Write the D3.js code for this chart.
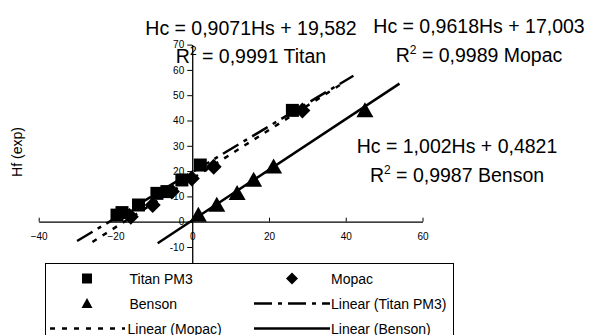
<!DOCTYPE html>
<html>
<head>
<meta charset="utf-8">
<script src="https://cdn.jsdelivr.net/npm/d3@7"></script>
<style>
  body { margin: 0; background: #fff; }
  svg { display: block; font-family: "Liberation Sans", Arial, sans-serif; }
  .tick text { font-size: 10px; fill: #000; }
  .ann { font-size: 19.5px; fill: #000; }
  .leg { font-size: 14px; fill: #000; }
</style>
</head>
<body>
<div id="chart"></div>
<script>
// ticks
const xTicks = [-40, -20, 0, 20, 40, 60];
const yTicks = [-20, -10, 0, 10, 20, 30, 40, 50, 60, 70];

// series (Hs on x, Hf exp on y)
const titanHs = [-19.6, -18.3, -14, -9.2, -6.6, -2.7, 2.1, 26.1];
const titanHc = [2.6, 3.6, 6.6, 11.2, 11.9, 16.5, 22.4, 44];
const mopacHs = [-16, -10.3, -5.3, -0.1, 5.6, 28.7];
const mopacHc = [2, 6.6, 11.9, 17.1, 21.7, 44];
const bensonHs = [1.6, 6.4, 11.7, 16, 21.2, 45];
const bensonHc = [2.6, 6.6, 11.2, 16.5, 21.7, 44];

// trendlines: Hc = slope*Hs + intercept, drawn between the x extents seen in the picture
const fitNames = ['Titan', 'Mopac', 'Benson'];
const fitSlope = [0.9071, 0.9618, 1.002];
const fitIntercept = [19.582, 17.003, 0.4821];
const fitFrom = [-30, -26, -9];
const fitTo = [42, 40, 54];
const eqText = ['Hc = 0,9071Hs + 19,582', 'Hc = 0,9618Hs + 17,003', 'Hc = 1,002Hs + 0,4821'];
const r2Text = [' = 0,9991 Titan', ' = 0,9989 Mopac', ' = 0,9987 Benson'];

const legendLabels = ['Titan PM3', 'Mopac', 'Benson', 'Linear (Titan PM3)', 'Linear (Mopac)', 'Linear (Benson)'];

const width = 593, height = 335;

const svg = d3.select('#chart').append('svg')
  .attr('width', width)
  .attr('height', height);

const x = d3.scaleLinear().domain([-40, 60]).range([38.7, 422.5]);
const y = d3.scaleLinear().domain([-20, 70]).range([272.3, 44.6]);

//// axes
const xAxis = svg.append('g')
  .attr('transform', `translate(0,${y(0)})`)
  .call(d3.axisBottom(x).tickValues(xTicks).tickSizeInner(-4).tickSizeOuter(0).tickPadding(11))
xAxis.select('.domain').attr('stroke', '#000').attr('stroke-width', 1.3)
xAxis.selectAll('.tick line').attr('stroke', '#000')

// the -20 label sits under the legend box in the reference, so it is left blank
const yAxis = svg.append('g')
  .attr('transform', `translate(${x(0)},0)`)
  .call(d3.axisLeft(y).tickValues(yTicks).tickSizeInner(5).tickSizeOuter(0).tickPadding(3)
    .tickFormat(d => d === -20 ? '' : d))
yAxis.select('.domain').attr('stroke', '#000').attr('stroke-width', 1.3)
yAxis.selectAll('.tick line').attr('stroke', '#000')

svg.append('text')
  .attr('transform', `translate(22,152) rotate(-90)`)
  .attr('text-anchor', 'middle')
  .style('font-size', '14px')
  .text('Hf (exp)')

//// markers
const squarePath = s => `M${-s/2},${-s/2}h${s}v${s}h${-s}Z`
const diamondPath = r => `M0,${-r}L${r},0L0,${r}L${-r},0Z`
const trianglePath = (w, h) => `M0,${-h*0.55}L${w/2},${h*0.45}L${-w/2},${h*0.45}Z`

const plot = svg.append('g')

//// trendlines
const dashes = ['18,6,4,6', '5,7', null]
fitNames.forEach((n, i) => {
  plot.append('line')
    .attr('x1', x(fitFrom[i]))
    .attr('y1', y(fitSlope[i] * fitFrom[i] + fitIntercept[i]))
    .attr('x2', x(fitTo[i]))
    .attr('y2', y(fitSlope[i] * fitTo[i] + fitIntercept[i]))
    .attr('stroke', '#000')
    .attr('stroke-width', 2.5)
    .attr('stroke-dasharray', dashes[i])
})

plot.selectAll('path.titan')
  .data(d3.zip(titanHs, titanHc))
  .join('path')
  .attr('class', 'titan')
  .attr('d', squarePath(13))
  .attr('transform', d => `translate(${x(d[0])},${y(d[1])})`)

plot.selectAll('path.mopac')
  .data(d3.zip(mopacHs, mopacHc))
  .join('path')
  .attr('class', 'mopac')
  .attr('d', diamondPath(8))
  .attr('transform', d => `translate(${x(d[0])},${y(d[1])})`)

plot.selectAll('path.benson')
  .data(d3.zip(bensonHs, bensonHc))
  .join('path')
  .attr('class', 'benson')
  .attr('d', trianglePath(17, 15))
  .attr('transform', d => `translate(${x(d[0])},${y(d[1])})`)

//// equation labels
const annPos = [[251, 35, 63], [479, 33, 62], [457, 153, 182]]
annPos.forEach((p, i) => {
  svg.append('text').attr('class', 'ann')
    .attr('x', p[0]).attr('y', p[1])
    .attr('text-anchor', 'middle')
    .text(eqText[i])
  const t = svg.append('text').attr('class', 'ann')
    .attr('x', p[0]).attr('y', p[2])
    .attr('text-anchor', 'middle')
  t.append('tspan').text('R')
  t.append('tspan').attr('dy', -8).style('font-size', '12px').text('2')
  t.append('tspan').attr('dy', 8).text(r2Text[i])
})

//// legend
const legend = svg.append('g')
legend.append('rect')
  .attr('x', 45.5).attr('y', 263.5)
  .attr('width', 408).attr('height', 80)
  .attr('fill', '#fff')
  .attr('stroke', '#000')

const rowY = [278.5, 303.5, 328.5]
const legItems = [
  {col: 0, row: 0, kind: 'square'},
  {col: 1, row: 0, kind: 'diamond'},
  {col: 0, row: 1, kind: 'triangle'},
  {col: 1, row: 1, kind: 'line', dash: dashes[0]},
  {col: 0, row: 2, kind: 'line', dash: dashes[1]},
  {col: 1, row: 2, kind: 'line', dash: dashes[2]},
]
const colSym = [87, 292]
const colLine = [[50, 125], [254, 330]]
const colText = [[129.5, 127.5], [331, 331]]

legItems.forEach((it, i) => {
  const cy = rowY[it.row]
  if (it.kind === 'line') {
    legend.append('line')
      .attr('x1', colLine[it.col][0]).attr('x2', colLine[it.col][1])
      .attr('y1', cy).attr('y2', cy)
      .attr('stroke', '#000').attr('stroke-width', 2.5)
      .attr('stroke-dasharray', it.dash)
  } else {
    const d = it.kind === 'square' ? squarePath(10) : it.kind === 'diamond' ? diamondPath(6) : trianglePath(11, 10)
    legend.append('path').attr('d', d)
      .attr('transform', `translate(${colSym[it.col]},${cy})`)
  }
  legend.append('text').attr('class', 'leg')
    .attr('x', it.kind === 'line' ? colText[it.col][1] : colText[it.col][0])
    .attr('y', cy + 5)
    .text(legendLabels[i])
})
</script>
</body>
</html>
